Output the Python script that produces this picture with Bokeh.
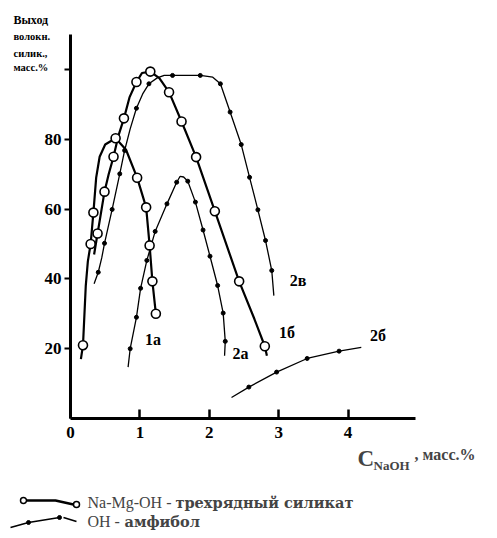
from bokeh.plotting import figure
from bokeh.models import Range1d, LinearAxis, FixedTicker, Label
from bokeh.embed import file_html
from bokeh.resources import INLINE

# ---------------- data ----------------
# curve 1a : Na-Mg-OH silicate (open circles)
c1a_x = [0.15, 0.18, 0.22, 0.25, 0.29, 0.33, 0.37, 0.42, 0.50, 0.65, 0.80, 0.96, 1.09, 1.14, 1.18, 1.23]
c1a_y = [17.0, 21.0, 38.0, 45.0, 50.0, 59.0, 69.0, 75.0, 78.5, 80.3, 77.0, 69.0, 60.5, 49.6, 39.3, 30.0]
m1a_x = [0.18, 0.29, 0.33, 0.65, 0.96, 1.09, 1.14, 1.18, 1.23]
m1a_y = [21.0, 50.0, 59.0, 80.3, 69.0, 60.5, 49.6, 39.3, 30.0]

# curve 1b
c1b_x = [0.34, 0.39, 0.44, 0.49, 0.55, 0.62, 0.69, 0.77, 0.85, 0.95, 1.03, 1.15, 1.28, 1.42, 1.60, 1.81, 2.08, 2.43, 2.65, 2.80, 2.83]
c1b_y = [47.0, 53.0, 59.0, 65.0, 70.0, 75.0, 81.0, 86.0, 92.0, 96.4, 99.0, 99.4, 97.5, 93.5, 85.1, 74.9, 59.4, 39.3, 28.5, 20.7, 18.0]
m1b_x = [0.39, 0.49, 0.62, 0.77, 0.95, 1.15, 1.42, 1.60, 1.81, 2.08, 2.43, 2.80]
m1b_y = [53.0, 65.0, 75.0, 86.0, 96.4, 99.4, 93.5, 85.1, 74.9, 59.4, 39.3, 20.7]

# curve 2a : OH amphibole (dots)
c2a_x = [0.83, 0.86, 0.95, 1.01, 1.10, 1.22, 1.39, 1.53, 1.58, 1.63, 1.69, 1.80, 1.91, 2.01, 2.12, 2.20, 2.23, 2.22]
c2a_y = [14.7, 20.0, 29.0, 37.3, 45.3, 53.6, 61.5, 67.7, 69.4, 69.2, 68.0, 62.0, 54.0, 46.5, 38.1, 30.2, 22.1, 18.0]
m2a_x = [0.86, 0.95, 1.01, 1.10, 1.22, 1.39, 1.53, 1.69, 1.80, 1.91, 2.01, 2.12, 2.20, 2.23]
m2a_y = [20.0, 29.0, 37.3, 45.3, 53.6, 61.5, 67.7, 68.0, 62.0, 54.0, 46.5, 38.1, 30.2, 22.1]

# curve 2b
c2b_x = [2.32, 2.57, 2.97, 3.41, 3.87, 4.19]
c2b_y = [6.0, 9.0, 13.3, 17.2, 19.3, 20.4]
m2b_x = [2.57, 2.97, 3.41, 3.87]
m2b_y = [9.0, 13.3, 17.2, 19.3]

# curve 2v
c2v_x = [0.34, 0.40, 0.45, 0.49, 0.60, 0.71, 0.78, 0.86, 0.95, 1.04, 1.13, 1.25, 1.35, 1.47, 1.87, 2.05, 2.16, 2.30, 2.46, 2.58, 2.70, 2.81, 2.90, 2.93]
c2v_y = [38.6, 41.9, 46.0, 50.2, 59.9, 70.1, 76.8, 83.0, 88.9, 93.0, 95.9, 97.6, 98.3, 98.3, 98.3, 97.8, 95.9, 87.8, 78.5, 69.1, 59.8, 51.0, 42.4, 35.2]
m2v_x = [0.40, 0.49, 0.60, 0.71, 0.78, 0.95, 1.13, 1.47, 1.87, 2.16, 2.30, 2.46, 2.58, 2.70, 2.81, 2.90]
m2v_y = [41.9, 50.2, 59.9, 70.1, 76.8, 88.9, 95.9, 98.3, 98.3, 95.9, 87.8, 78.5, 69.1, 59.8, 51.0, 42.4]

curve_labels = ["1а", "2а", "1б", "2б", "2в"]
curve_label_x = [1.19, 2.45, 3.12, 4.43, 3.28]
curve_label_y = [22.5, 18.7, 24.7, 23.8, 39.5]

x_ticks = [0, 1, 2, 3, 4]
y_ticks = [20, 40, 60, 80, 100]
y_title = ["Выход", "волокн.", "силик.,", "масс.%"]
legend_texts = [("Na-Mg-OH - ", "трехрядный силикат"), ("OH - ", "амфибол")]

# ---------------- layout ----------------
W, H = 480, 530
PX0, PXU = 70.0, 69.4   # picture x of C=0, px per unit
PY0, PYU = 418.0, 3.49  # picture y of 0 %, px per unit


def dx(px):
    return (px - PX0) / PXU


def dy(py):
    return (PY0 - py) / PYU


SERIF = "Liberation Serif"

p = figure(width=W, height=H, output_backend="svg", toolbar_location=None,
           x_range=Range1d(dx(0), dx(W)), y_range=Range1d(dy(H), dy(0)),
           x_axis_type=None, y_axis_type=None, min_border=0,
           min_border_left=0, min_border_right=0, min_border_top=0, min_border_bottom=0)
p.outline_line_color = None
p.xgrid.visible = False
p.ygrid.visible = False
p.background_fill_color = "white"

yax = LinearAxis(fixed_location=0, ticker=FixedTicker(ticks=y_ticks), bounds=(0, 110),
                 major_label_overrides={100: ""})
yax.axis_line_width = 3
yax.major_tick_line_width = 2
yax.major_tick_in = 0
yax.major_tick_out = 6
yax.minor_tick_line_color = None
yax.major_label_text_font = SERIF
yax.major_label_text_font_style = "bold"
yax.major_label_text_font_size = "17px"
yax.major_label_text_color = "black"
yax.major_label_standoff = 3
p.add_layout(yax, "left")

xax = LinearAxis(fixed_location=0, ticker=FixedTicker(ticks=x_ticks), bounds=(0, 4.97))
xax.axis_line_width = 3
xax.major_tick_line_width = 2.5
xax.major_tick_in = 9
xax.major_tick_out = 0
xax.minor_tick_line_color = None
xax.major_label_text_font = SERIF
xax.major_label_text_font_style = "bold"
xax.major_label_text_font_size = "17px"
xax.major_label_text_color = "black"
xax.major_label_standoff = 8
p.add_layout(xax, "below")

# ---------------- curves ----------------
for cx, cy in [(c1a_x, c1a_y), (c1b_x, c1b_y)]:
    p.line(cx, cy, line_color="black", line_width=2.2)
for cx, cy in [(c2a_x, c2a_y), (c2b_x, c2b_y), (c2v_x, c2v_y)]:
    p.line(cx, cy, line_color="black", line_width=1.3)
for mx, my in [(m1a_x, m1a_y), (m1b_x, m1b_y)]:
    p.scatter(mx, my, marker="circle", size=9, fill_color="white", line_color="black", line_width=1.6)
for mx, my in [(m2a_x, m2a_y), (m2b_x, m2b_y), (m2v_x, m2v_y)]:
    p.scatter(mx, my, marker="circle", size=4, fill_color="black", line_color="black")

for t, lx, ly in zip(curve_labels, curve_label_x, curve_label_y):
    p.add_layout(Label(x=lx, y=ly, text=t, text_font=SERIF, text_font_style="bold",
                       text_font_size="16px", text_align="center", text_baseline="middle",
                       text_color="black"))

# y title
for i, (t, py) in enumerate(zip(y_title, [19, 36, 53, 67])):
    p.add_layout(Label(x=dx(13), y=dy(py), text=t, text_font=SERIF, text_font_style="bold",
                       text_font_size="12px" if i == 0 else "10.5px",
                       text_align="left", text_baseline="middle", text_color="black"))

# x title  C_NaOH , масс.%
p.add_layout(Label(x=dx(357), y=dy(458), text="C", text_font=SERIF, text_font_style="bold",
                   text_font_size="23px", text_align="left", text_baseline="middle"))
p.add_layout(Label(x=dx(373), y=dy(465), text="NaOH", text_font=SERIF, text_font_style="bold",
                   text_font_size="13px", text_align="left", text_baseline="middle"))
p.add_layout(Label(x=dx(414), y=dy(454), text=", масс.%", text_font=SERIF, text_font_style="bold",
                   text_font_size="16px", text_align="left", text_baseline="middle"))

# legend
p.line([dx(25), dx(55), dx(73)], [dy(500), dy(500), dy(504)], line_color="black", line_width=2.5)
p.scatter([dx(23), dx(76)], [dy(500), dy(504)], marker="circle", size=6, fill_color="white",
          line_color="black", line_width=1.5)
p.line([dx(10), dx(28), dx(59)], [dy(527), dy(522), dy(517)], line_color="black", line_width=1.5)
p.line([dx(63), dx(76)], [dy(517), dy(521)], line_color="black", line_width=1.5)
p.scatter([dx(28), dx(59)], [dy(522), dy(517)], marker="circle", size=4, fill_color="black",
          line_color="black")

for (reg, bold), py, off in zip(legend_texts, [502, 521], [88, 37]):
    p.add_layout(Label(x=dx(87), y=dy(py), text=reg, text_font=SERIF, text_font_size="16px",
                       text_align="left", text_baseline="middle"))
    p.add_layout(Label(x=dx(87 + off), y=dy(py), text=bold, text_font="DejaVu Serif",
                       text_font_style="bold", text_font_size="14.5px",
                       text_align="left", text_baseline="middle"))

open("out.html", "w").write(file_html(p, INLINE))
